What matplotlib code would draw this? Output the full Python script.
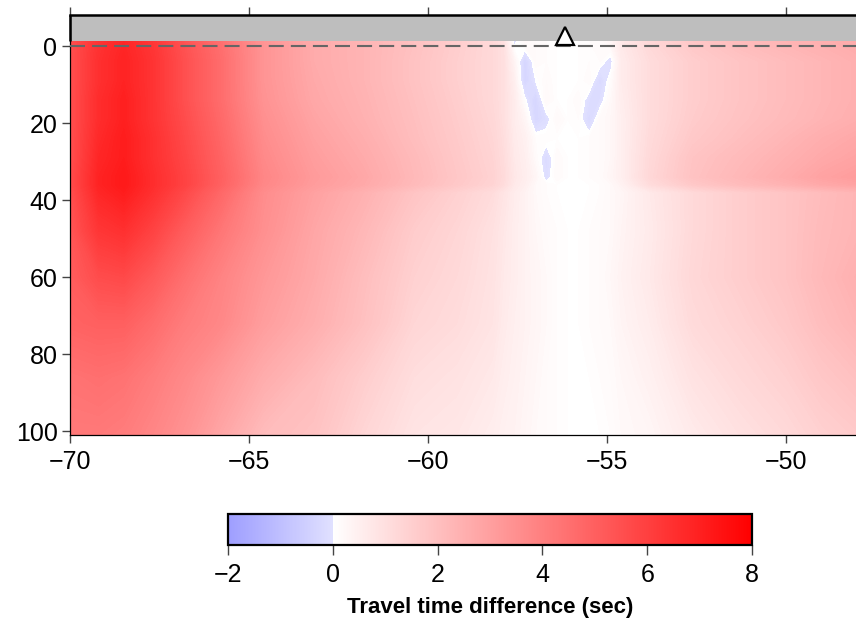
import numpy as np
import matplotlib
matplotlib.use("Agg")
import matplotlib.pyplot as plt
from matplotlib.colors import LinearSegmentedColormap, Normalize
from matplotlib.cm import ScalarMappable
from matplotlib.patches import Rectangle

plt.rcParams['font.family'] = ['Liberation Sans', 'DejaVu Sans']

# Longitude nodes (deg) and depth nodes (km) of the travel-time grid
longitude = [-70, -69.2, -68.5, -67.7, -66.8, -65.8, -64.6, -63.2, -61.8, -60.4,
             -59.2, -58.2, -57.9, -57.6, -57.3, -57.0, -56.7, -56.4, -56.1, -55.8,
             -55.5, -55.2, -54.9, -54.6, -53.8, -52.6, -51.3, -50.0, -49.0, -47.9]
depth = [-1.3, 4, 9, 14, 19, 24, 29, 34, 36, 38, 48, 60, 72, 86, 101]

# Travel time difference (sec), one row per depth node
travel_time_diff = [
    [5.5, 6.4, 6.8, 6.3, 5.4, 4.5, 3.35, 2.65, 2.35, 1.95, 1.55, 1.2, 1.0, -0.1, 0.25, 0.15, 0.1, 0.05, 0.05, 0.05, 0.1, 0.15, 0.3, 0.7, 1.25, 1.75, 2.1, 2.35, 2.5, 2.7],
    [5.5, 6.5, 6.9, 6.4, 5.5, 4.6, 3.35, 2.65, 2.35, 1.9, 1.5, 1.2, 1.0, 0.35, -0.3, 0.15, 0.1, 0.05, 0.05, 0.05, 0.1, 0.1, -0.1, 0.6, 1.1, 1.55, 1.85, 2.1, 2.3, 2.5],
    [5.5, 6.5, 6.9, 6.4, 5.5, 4.6, 3.35, 2.7, 2.35, 1.9, 1.5, 1.2, 1.0, 0.5, -0.3, 0.0, 0.15, 0.05, 0.05, 0.05, 0.15, -0.2, 0.1, 0.6, 1.1, 1.55, 1.85, 2.1, 2.3, 2.5],
    [5.5, 6.6, 7.0, 6.4, 5.5, 4.6, 3.4, 2.75, 2.4, 1.95, 1.55, 1.2, 1.0, 0.6, 0.05, -0.3, 0.2, 0.05, 0.05, 0.15, -0.1, -0.1, 0.2, 0.55, 1.1, 1.55, 1.85, 2.1, 2.3, 2.5],
    [5.5, 6.6, 7.0, 6.4, 5.6, 4.7, 3.5, 2.85, 2.45, 2.0, 1.6, 1.25, 1.0, 0.6, 0.3, -0.25, -0.1, 0.2, 0.05, 0.1, -0.2, 0.15, 0.25, 0.5, 1.1, 1.6, 1.9, 2.15, 2.35, 2.55],
    [5.5, 6.7, 7.1, 6.5, 5.7, 4.8, 3.6, 2.95, 2.55, 2.05, 1.65, 1.3, 1.05, 0.65, 0.45, 0.1, 0.1, 0.05, 0.05, 0.05, 0.1, 0.15, 0.25, 0.5, 1.15, 1.7, 2.0, 2.3, 2.55, 2.75],
    [5.5, 6.8, 7.1, 6.5, 5.8, 4.9, 3.7, 3.05, 2.65, 2.15, 1.7, 1.35, 1.1, 0.7, 0.5, 0.15, -0.15, 0.15, 0.05, 0.05, 0.1, 0.15, 0.25, 0.5, 1.2, 1.85, 2.15, 2.45, 2.7, 2.9],
    [5.6, 6.9, 7.2, 6.6, 5.9, 5.0, 3.8, 3.15, 2.75, 2.2, 1.75, 1.4, 1.15, 0.75, 0.55, 0.3, -0.1, 0.15, 0.05, 0.05, 0.1, 0.15, 0.3, 0.5, 1.25, 1.9, 2.25, 2.6, 2.9, 3.1],
    [5.6, 6.9, 7.2, 6.6, 5.9, 4.95, 3.75, 3.1, 2.7, 2.15, 1.7, 1.35, 1.1, 0.7, 0.5, 0.2, 0.1, 0.05, 0.05, 0.05, 0.05, 0.1, 0.2, 0.4, 1.1, 1.7, 2.1, 2.4, 2.7, 2.9],
    [5.5, 6.8, 7.1, 6.5, 5.7, 4.75, 3.6, 2.95, 2.45, 1.85, 1.45, 1.1, 0.85, 0.6, 0.4, 0.2, 0.1, 0.05, 0.05, 0.05, 0.05, 0.1, 0.2, 0.3, 0.7, 1.2, 1.55, 1.85, 2.1, 2.35],
    [5.3, 6.3, 6.5, 5.9, 5.1, 4.3, 3.5, 2.8, 2.25, 1.6, 1.3, 0.95, 0.75, 0.55, 0.4, 0.25, 0.15, 0.1, 0.05, 0.05, 0.1, 0.15, 0.2, 0.35, 0.65, 1.2, 1.55, 1.85, 2.15, 2.35],
    [5.1, 5.6, 5.7, 5.2, 4.5, 3.9, 3.25, 2.7, 2.05, 1.45, 1.2, 0.9, 0.7, 0.55, 0.4, 0.3, 0.2, 0.1, 0.05, 0.05, 0.1, 0.15, 0.25, 0.4, 0.7, 1.25, 1.55, 1.85, 2.2, 2.5],
    [4.9, 5.0, 5.0, 4.6, 4.1, 3.75, 3.05, 2.55, 1.95, 1.3, 1.1, 0.85, 0.65, 0.5, 0.4, 0.3, 0.2, 0.1, 0.05, 0.05, 0.1, 0.15, 0.2, 0.35, 0.6, 1.15, 1.4, 1.7, 2.05, 2.35],
    [4.4, 4.5, 4.4, 4.1, 3.7, 3.2, 2.6, 2.1, 1.55, 1.05, 0.9, 0.7, 0.55, 0.45, 0.35, 0.25, 0.15, 0.1, 0.05, 0.05, 0.05, 0.1, 0.15, 0.25, 0.45, 0.9, 1.2, 1.45, 1.75, 2.0],
    [4.2, 4.2, 4.1, 3.8, 3.4, 2.8, 2.1, 1.9, 1.3, 0.85, 0.75, 0.55, 0.45, 0.4, 0.3, 0.2, 0.15, 0.1, 0.05, 0.05, 0.05, 0.05, 0.1, 0.2, 0.3, 0.65, 0.95, 1.2, 1.45, 1.65],
]

station_lon = -56.17
station_depth = -2.6
x_ticks = [-70, -65, -60, -55, -50]
y_ticks = [0, 20, 40, 60, 80, 100]
cbar_ticks = [-2, 0, 2, 4, 6, 8]
vmin, vmax = -2, 8

# Blue below zero (with a jump at zero), white-to-red above zero
zero_pos = (0 - vmin) / (vmax - vmin)
cdict = {
    'red':   [(0.0, 0.62, 0.62), (zero_pos, 0.88, 1.0), (1.0, 1.0, 1.0)],
    'green': [(0.0, 0.62, 0.62), (zero_pos, 0.88, 1.0), (1.0, 0.0, 0.0)],
    'blue':  [(0.0, 1.0, 1.0), (zero_pos, 1.0, 1.0), (1.0, 0.0, 0.0)],
}
cmap = LinearSegmentedColormap('blue_white_red', cdict, N=512)
norm = Normalize(vmin=vmin, vmax=vmax)

fig = plt.figure(figsize=(8.56, 6.19), dpi=100)
ax = fig.add_axes([70 / 856, 1 - 435 / 619, 786 / 856, 420 / 619])

levels = np.linspace(vmin, vmax, 201)
ax.contourf(longitude, depth, np.array(travel_time_diff), levels=levels,
            cmap=cmap, norm=norm, antialiased=False, zorder=1)

xmin, xmax = -70, -48.05
ytop, ybot = -8.05, 101.0
ax.set_xlim(xmin, xmax)
ax.set_ylim(ybot, ytop)

# Topography strip above the surface
ax.add_patch(Rectangle((xmin, ytop), xmax - xmin, depth[0] - ytop,
                       facecolor='#bebebe', edgecolor='none', zorder=2))
ax.plot([xmin, xmin], [ytop, depth[0]], color='black', lw=1.8,
        solid_capstyle='butt', zorder=5, clip_on=False)

# Surface line
ax.axhline(0, color='#666666', lw=1.5, dashes=(7.2, 3.4), zorder=3)

# Station marker
ax.plot([station_lon], [station_depth], marker='^', markersize=13,
        markerfacecolor='white', markeredgecolor='black', markeredgewidth=1.6,
        linestyle='none', zorder=6, clip_on=False)

ax.set_xticks(x_ticks)
ax.set_yticks(y_ticks)
ax.tick_params(axis='both', labelsize=18, length=6, width=1.0,
               color='#444444', direction='out')
ax.tick_params(axis='x', top=True, labeltop=False, pad=5)
ax.tick_params(axis='y', pad=3)

ax.spines['right'].set_visible(False)
ax.spines['top'].set_linewidth(1.8)
ax.spines['left'].set_linewidth(0.9)
ax.spines['bottom'].set_linewidth(0.9)

# Colour bar
cax = fig.add_axes([228 / 856, 1 - 545 / 619, 524 / 856, 31 / 619])
cb = fig.colorbar(ScalarMappable(norm=norm, cmap=cmap), cax=cax,
                  orientation='horizontal', ticks=cbar_ticks)
cb.outline.set_linewidth(1.6)
cax.tick_params(labelsize=18, length=7, width=1.0, color='#444444', pad=6)
cb.set_label('Travel time difference (sec)', fontsize=16,
             fontweight='bold', labelpad=7)

fig.savefig('out.png', dpi=100)
